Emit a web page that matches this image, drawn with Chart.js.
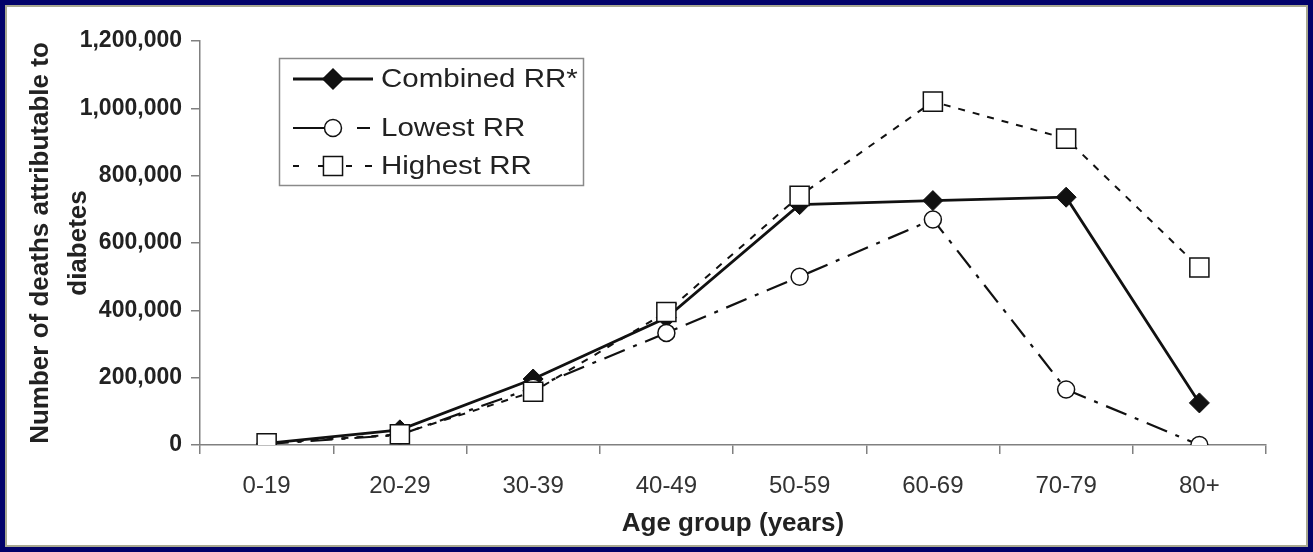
<!DOCTYPE html>
<html>
<head>
<meta charset="utf-8">
<script src="https://cdn.jsdelivr.net/npm/chart.js@4.4.1/dist/chart.umd.min.js"></script>
<style>
  html, body { margin: 0; padding: 0; background: #02026a; }
  #wrap { width: 1313px; height: 552px; }
</style>
</head>
<body>
<div id="wrap"><canvas id="deaths_chart" width="1313" height="552"></canvas></div>
<script>
// DATA
const age_groups = ["0-19", "20-29", "30-39", "40-49", "50-59", "60-69", "70-79", "80+"];
const combined_rr = [5000, 45000, 196000, 378000, 714000, 726000, 736000, 125000];
const lowest_rr = [3000, 30000, 170000, 333000, 500000, 670000, 165000, 0];
const highest_rr = [5000, 32000, 158000, 395000, 740000, 1020000, 910000, 527000];
const y_ticks = [0, 200000, 400000, 600000, 800000, 1000000, 1200000];

// dash patterns of the little legend samples
const legend_dashes = [[], [32, 32, 13, 100], [6, 19, 8, 20, 6, 13, 7, 100]];

const FONT = "'Liberation Sans', Arial, sans-serif";
const ctx = document.getElementById("deaths_chart").getContext("2d");

// BACKGROUND + FRAME
const framePlugin = {
  id: "frame",
  beforeDraw(chart) {
    const c = chart.ctx;
    c.save();
    c.fillStyle = "#02026a";
    c.fillRect(0, 0, chart.width, chart.height);
    c.fillStyle = "#a8a890";
    c.fillRect(5, 5, chart.width - 10, chart.height - 10);
    c.fillStyle = "#ffffff";
    c.fillRect(7, 7, chart.width - 14, chart.height - 14);
    c.restore();
  },
};

// marker helper, used for the legend box
function drawMarker(c, style, x, y, r, fill) {
  c.fillStyle = fill;
  c.strokeStyle = "#111";
  c.lineWidth = 1.5;
  c.beginPath();
  if (style === "circle") {
    c.arc(x, y, r, 0, Math.PI * 2);
  } else if (style === "rect") {
    const s = r * Math.SQRT1_2;
    c.rect(x - s, y - s, 2 * s, 2 * s);
  } else {
    c.moveTo(x, y - r);
    c.lineTo(x + r, y);
    c.lineTo(x, y + r);
    c.lineTo(x - r, y);
    c.closePath();
  }
  c.fill();
  c.stroke();
}

// BOXED LEGEND (line + marker + label)
const boxLegend = {
  id: "boxLegend",
  afterDraw(chart) {
    const c = chart.ctx;
    c.save();
    c.strokeStyle = "#8a8a8a";
    c.lineWidth = 1.5;
    c.strokeRect(279.5, 58.5, 304, 127);
    const rows = [79, 128, 166];
    chart.data.datasets.forEach((ds, i) => {
      const y = rows[i];
      c.strokeStyle = "#111";
      c.lineWidth = ds.borderWidth;
      c.setLineDash(legend_dashes[i]);
      c.beginPath();
      c.moveTo(293, y);
      c.lineTo(373, y);
      c.stroke();
      c.setLineDash([]);
      drawMarker(c, ds.pointStyle, 333, y, ds.pointRadius, ds.pointBackgroundColor);
      // text in the original is a little wider than Liberation Sans
      c.save();
      c.translate(381, y + 1);
      c.scale(1.18, 1);
      c.fillStyle = "#222";
      c.font = "25px " + FONT;
      c.textBaseline = "middle";
      c.fillText(ds.label, 0, 0);
      c.restore();
    });
    c.restore();
  },
};

const my_chart = new Chart(ctx, {
  type: "line",
  data: {
    labels: age_groups,
    datasets: [
      {
        label: "Combined RR*",
        data: combined_rr,
        borderColor: "#111",
        borderWidth: 2.8,
        pointStyle: "rectRot",
        pointRadius: 10,
        pointBackgroundColor: "#111",
        pointBorderColor: "#111",
        pointBorderWidth: 1,
        order: 2,
      },
      {
        label: "Lowest RR",
        data: lowest_rr,
        borderColor: "#111",
        borderWidth: 2.2,
        borderDash: [22, 9, 4, 9],
        pointStyle: "circle",
        pointRadius: 8.5,
        pointBackgroundColor: "#fff",
        pointBorderColor: "#111",
        pointBorderWidth: 1.5,
        order: 1,
      },
      {
        label: "Highest RR",
        data: highest_rr,
        borderColor: "#111",
        borderWidth: 2,
        borderDash: [7, 8],
        pointStyle: "rect",
        pointRadius: 13.5,
        pointBackgroundColor: "#fff",
        pointBorderColor: "#111",
        pointBorderWidth: 1.5,
        order: 0,
      },
    ],
  },
  options: {
    responsive: false,
    animation: false,
    layout: { padding: { left: 0, top: 41, right: 47, bottom: 0 } },
    plugins: { legend: { display: false }, tooltip: { enabled: false } },
    scales: {
      x: {
        offset: true,
        afterFit: (s) => { s.height = 107; },
        grid: { offset: true, drawOnChartArea: false, color: "#808080", tickLength: 9, lineWidth: 1.5 },
        border: { color: "#808080", width: 1.5 },
        ticks: { color: "#333", padding: 18, font: { size: 24, family: FONT } },
        title: {
          display: true,
          text: "Age group (years)",
          color: "#222",
          padding: { top: 0, bottom: 13 },
          font: { size: 26, weight: "bold", family: FONT },
        },
      },
      y: {
        min: 0,
        max: 1200000,
        afterFit: (s) => { s.width = 200; },
        afterBuildTicks: (s) => { s.ticks = y_ticks.map((v) => ({ value: v })); },
        grid: { drawOnChartArea: false, color: "#808080", tickLength: 9, lineWidth: 1.5 },
        border: { color: "#808080", width: 1.5 },
        ticks: {
          color: "#222",
          padding: 9,
          font: { size: 23, weight: "bold", family: FONT },
          callback: (v) => v.toLocaleString("en-US"),
        },
        title: {
          display: true,
          text: ["Number of deaths attributable to", "diabetes"],
          color: "#222",
          padding: { top: 22 },
          font: { size: 26, weight: "bold", family: FONT, lineHeight: 1.46 },
        },
      },
    },
  },
  plugins: [framePlugin, boxLegend],
});
</script>
</body>
</html>
